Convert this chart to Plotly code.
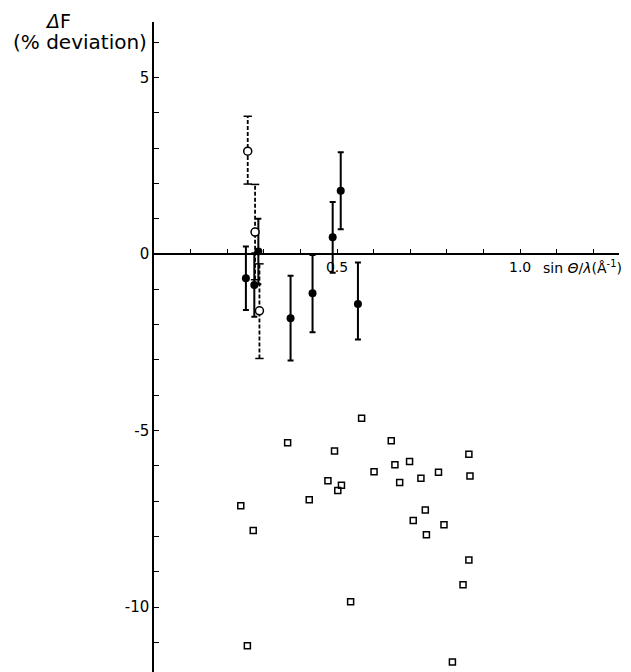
import plotly.graph_objects as go

# ---- data ----
# filled circles, solid error bars
closed_x = [0.251, 0.274, 0.285, 0.373, 0.433, 0.488, 0.510, 0.557]
closed_y = [-0.69, -0.88, 0.07, -1.82, -1.11, 0.47, 1.79, -1.42]
closed_err_up = [0.90, 0.90, 0.93, 1.20, 1.08, 1.00, 1.09, 1.18]
closed_err_dn = [0.90, 0.90, 0.93, 1.20, 1.11, 1.00, 1.09, 1.00]

# open circles, dashed error bars
open_x = [0.256, 0.276, 0.288]
open_y = [2.91, 0.62, -1.61]
open_err_up = [0.99, 1.35, 1.33]
open_err_dn = [0.93, 1.35, 1.35]

# open squares (no error bars)
sq_x = [0.567, 0.365, 0.648, 0.493, 0.860, 0.658, 0.698, 0.601, 0.777,
        0.475, 0.512, 0.502, 0.671, 0.729, 0.863, 0.424, 0.237, 0.741,
        0.708, 0.792, 0.744, 0.271, 0.860, 0.844, 0.537, 0.255, 0.815]
sq_y = [-4.65, -5.35, -5.29, -5.58, -5.67, -5.97, -5.88, -6.17, -6.18,
        -6.42, -6.55, -6.70, -6.47, -6.35, -6.29, -6.96, -7.13, -7.25,
        -7.55, -7.67, -7.95, -7.83, -8.67, -9.37, -9.85, -11.10, -11.56]

# axes
x_tickvals = [0.5, 1.0]
x_ticktext = ["0.5", "1.0"]
x_minor_step = 0.1
y_tickvals = [-10, -5, 0, 5]
y_ticktext = ["-10", "-5", "0", "5"]
y_minor_step = 1
x_range = [0, 1.27]
y_range = [-11.84, 6.57]

FONT = "DejaVu Sans"

fig = go.Figure()

# dashed error bars for open circles
dx, dy, cap_x, cap_y = [], [], [], []
for x, y, u, d in zip(open_x, open_y, open_err_up, open_err_dn):
    dx += [x, x, None]
    dy += [y - d, y + u, None]
    cap_x += [x, x]
    cap_y += [y - d, y + u]
fig.add_trace(go.Scatter(x=dx, y=dy, mode="lines",
                         line=dict(color="black", width=1.8, dash="4px,2px"),
                         hoverinfo="skip", showlegend=False))
fig.add_trace(go.Scatter(x=cap_x, y=cap_y, mode="markers",
                         marker=dict(symbol="line-ew", size=6,
                                     line=dict(color="black", width=1.5)),
                         hoverinfo="skip", showlegend=False))

# filled circles with solid error bars
fig.add_trace(go.Scatter(
    x=closed_x, y=closed_y, mode="markers",
    marker=dict(symbol="circle", size=8, color="black"),
    error_y=dict(type="data", symmetric=False, array=closed_err_up,
                 arrayminus=closed_err_dn, color="black", thickness=2, width=3),
    showlegend=False))

# open circles
fig.add_trace(go.Scatter(
    x=open_x, y=open_y, mode="markers",
    marker=dict(symbol="circle", size=8, color="white",
                line=dict(color="black", width=1.5)),
    showlegend=False))

# open squares
fig.add_trace(go.Scatter(
    x=sq_x, y=sq_y, mode="markers",
    marker=dict(symbol="square-open", size=6, color="black",
                line=dict(color="black", width=1.5)),
    showlegend=False))

x_axis_pos = (0 - y_range[0]) / (y_range[1] - y_range[0])

# page body has an 8px margin, so the figure is 8px smaller than the window
fig.update_layout(
    width=623, height=664,
    margin=dict(l=146, r=12, t=14, b=0),
    plot_bgcolor="white", paper_bgcolor="white",
    font=dict(family=FONT, color="black"),
    xaxis=dict(range=x_range, anchor="free", position=x_axis_pos,
               showline=True, linecolor="black", linewidth=1.5,
               ticks="inside", ticklen=4, tickwidth=1.2, tickcolor="black",
               tickvals=x_tickvals, ticktext=x_ticktext,
               minor=dict(dtick=x_minor_step, tick0=0, ticks="inside", ticklen=4,
                          tickwidth=1.2, tickcolor="black", showgrid=False),
               tickfont=dict(size=14, family=FONT),
               showgrid=False, zeroline=False),
    yaxis=dict(range=y_range, showline=True, linecolor="black", linewidth=1.5,
               ticks="inside", ticklen=5, tickwidth=1.2, tickcolor="black",
               tickvals=y_tickvals, ticktext=y_ticktext,
               minor=dict(dtick=y_minor_step, tick0=0, ticks="inside", ticklen=5,
                          tickwidth=1.2, tickcolor="black", showgrid=False),
               tickfont=dict(size=15, family=FONT),
               showgrid=False, zeroline=False),
    annotations=[
        dict(text="<i>Δ</i>F", xref="paper", yref="paper",
             x=(58 - 154) / 465, y=(672 - 21) / 650,
             xanchor="center", yanchor="middle", showarrow=False,
             font=dict(size=19, family=FONT)),
        dict(text="(% deviation)", xref="paper", yref="paper",
             x=(80 - 154) / 465, y=(672 - 42) / 650,
             xanchor="center", yanchor="middle", showarrow=False,
             font=dict(size=20, family=FONT)),
        dict(text="sin <i>Θ</i>/<i>λ</i>(Å<sup>-1</sup>)", xref="paper", yref="paper",
             x=(541 - 154) / 465, y=(672 - 267) / 650,
             xanchor="left", yanchor="middle", showarrow=False,
             font=dict(size=14, family=FONT)),
    ],
)

fig.write_html("out.html")
